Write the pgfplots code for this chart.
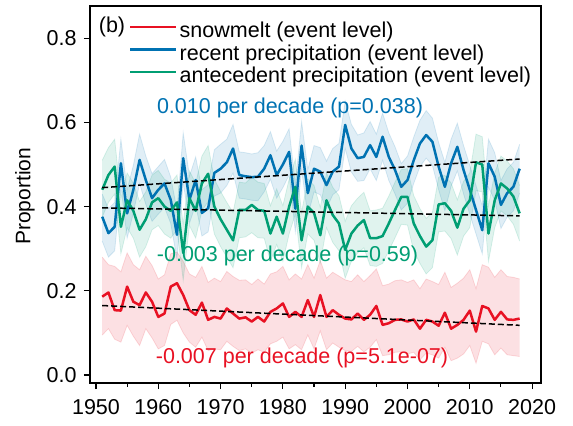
\documentclass[border=0pt]{standalone}
\usepackage{fontspec}
\setmainfont{Liberation Sans}
\usepackage{pgfplots}
\pgfplotsset{compat=1.18}
\usepackage{pgfplotstable}
\usepgfplotslibrary{fillbetween}
\definecolor{cred}{RGB}{232,17,35}
\definecolor{cblue}{RGB}{0,114,178}
\definecolor{cgreen}{RGB}{0,158,115}
\newcommand{\fs}{\fontsize{21.5bp}{24bp}\selectfont}
\pgfplotstableread{
year v hi lo
1951 0.186 0.280 0.095
1952 0.196 0.262 0.110
1953 0.154 0.258 0.085
1954 0.153 0.245 0.078
1955 0.210 0.290 0.118
1956 0.174 0.262 0.092
1957 0.166 0.250 0.070
1958 0.196 0.282 0.110
1959 0.174 0.260 0.088
1960 0.138 0.228 0.062
1961 0.146 0.238 0.070
1962 0.210 0.288 0.120
1963 0.218 0.292 0.130
1964 0.190 0.270 0.100
1965 0.154 0.240 0.078
1966 0.143 0.232 0.066
1967 0.172 0.258 0.090
1968 0.131 0.220 0.058
1969 0.138 0.230 0.062
1970 0.134 0.222 0.060
1971 0.158 0.246 0.080
1972 0.146 0.234 0.068
1973 0.134 0.225 0.058
1974 0.137 0.226 0.062
1975 0.127 0.215 0.052
1976 0.138 0.228 0.060
1977 0.127 0.216 0.054
1978 0.150 0.240 0.074
1979 0.158 0.245 0.080
1980 0.170 0.258 0.090
1981 0.138 0.226 0.062
1982 0.150 0.240 0.072
1983 0.138 0.228 0.060
1984 0.178 0.262 0.095
1985 0.138 0.230 0.062
1986 0.190 0.272 0.105
1987 0.138 0.230 0.060
1988 0.154 0.244 0.076
1989 0.143 0.235 0.066
1990 0.134 0.226 0.058
1991 0.132 0.222 0.056
1992 0.146 0.238 0.068
1993 0.131 0.222 0.055
1994 0.143 0.236 0.066
1995 0.164 0.252 0.084
1996 0.119 0.212 0.046
1997 0.123 0.216 0.048
1998 0.131 0.224 0.054
1999 0.132 0.226 0.055
2000 0.127 0.220 0.050
2001 0.132 0.226 0.054
2002 0.110 0.205 0.036
2003 0.131 0.228 0.052
2004 0.127 0.222 0.048
2005 0.117 0.215 0.040
2006 0.148 0.244 0.066
2007 0.110 0.208 0.034
2008 0.119 0.218 0.040
2009 0.131 0.230 0.050
2010 0.153 0.250 0.070
2011 0.103 0.205 0.028
2012 0.164 0.262 0.080
2013 0.158 0.256 0.074
2014 0.131 0.232 0.048
2015 0.150 0.250 0.064
2016 0.132 0.234 0.048
2017 0.131 0.232 0.046
2018 0.134 0.228 0.044
}\snow
\pgfplotstableread{
year v hi lo
1951 0.376 0.430 0.318
1952 0.337 0.395 0.280
1953 0.352 0.410 0.295
1954 0.503 0.560 0.448
1955 0.384 0.440 0.325
1956 0.440 0.498 0.385
1957 0.511 0.572 0.455
1958 0.463 0.520 0.405
1959 0.420 0.478 0.365
1960 0.440 0.495 0.382
1961 0.455 0.512 0.398
1962 0.416 0.470 0.360
1963 0.333 0.392 0.275
1964 0.515 0.575 0.458
1965 0.416 0.472 0.360
1966 0.463 0.518 0.405
1967 0.385 0.440 0.330
1968 0.396 0.452 0.340
1969 0.480 0.535 0.425
1970 0.490 0.548 0.432
1971 0.505 0.560 0.450
1972 0.538 0.595 0.480
1973 0.475 0.530 0.420
1974 0.472 0.528 0.418
1975 0.470 0.525 0.415
1976 0.471 0.528 0.414
1977 0.490 0.545 0.435
1978 0.522 0.578 0.465
1979 0.475 0.532 0.420
1980 0.500 0.555 0.445
1981 0.530 0.585 0.475
1982 0.395 0.452 0.340
1983 0.545 0.602 0.488
1984 0.432 0.488 0.378
1985 0.490 0.545 0.435
1986 0.483 0.540 0.428
1987 0.451 0.508 0.395
1988 0.483 0.538 0.428
1989 0.495 0.550 0.440
1990 0.594 0.650 0.538
1991 0.538 0.595 0.482
1992 0.515 0.570 0.460
1993 0.518 0.575 0.462
1994 0.546 0.602 0.490
1995 0.518 0.572 0.462
1996 0.566 0.622 0.510
1997 0.518 0.575 0.462
1998 0.487 0.542 0.430
1999 0.447 0.502 0.392
2000 0.463 0.520 0.408
2001 0.510 0.565 0.455
2002 0.550 0.605 0.495
2003 0.570 0.628 0.515
2004 0.554 0.610 0.498
2005 0.495 0.552 0.440
2006 0.447 0.505 0.390
2007 0.503 0.560 0.448
2008 0.542 0.598 0.485
2009 0.487 0.545 0.430
2010 0.440 0.498 0.382
2011 0.392 0.450 0.335
2012 0.344 0.402 0.288
2013 0.503 0.560 0.446
2014 0.471 0.528 0.415
2015 0.404 0.462 0.348
2016 0.432 0.490 0.375
2017 0.447 0.505 0.390
2018 0.490 0.548 0.432
}\recent
\pgfplotstableread{
year v hi lo
1951 0.440 0.510 0.375
1952 0.475 0.540 0.410
1953 0.495 0.560 0.430
1954 0.352 0.420 0.288
1955 0.415 0.480 0.350
1956 0.390 0.455 0.325
1957 0.345 0.412 0.280
1958 0.370 0.435 0.305
1959 0.410 0.475 0.345
1960 0.420 0.486 0.355
1961 0.400 0.465 0.335
1962 0.390 0.456 0.325
1963 0.410 0.475 0.345
1964 0.290 0.358 0.225
1965 0.420 0.485 0.355
1966 0.390 0.455 0.325
1967 0.455 0.520 0.390
1968 0.478 0.545 0.412
1969 0.400 0.465 0.335
1970 0.370 0.436 0.305
1971 0.345 0.410 0.280
1972 0.320 0.386 0.255
1973 0.392 0.458 0.326
1974 0.392 0.456 0.328
1975 0.404 0.470 0.338
1976 0.392 0.458 0.326
1977 0.390 0.455 0.325
1978 0.336 0.402 0.270
1979 0.376 0.442 0.310
1980 0.336 0.402 0.270
1981 0.400 0.465 0.335
1982 0.447 0.512 0.382
1983 0.320 0.386 0.255
1984 0.400 0.466 0.335
1985 0.385 0.450 0.320
1986 0.332 0.398 0.266
1987 0.415 0.480 0.350
1988 0.380 0.446 0.315
1989 0.360 0.426 0.295
1990 0.297 0.365 0.230
1991 0.336 0.402 0.270
1992 0.355 0.420 0.290
1993 0.368 0.434 0.302
1994 0.325 0.390 0.260
1995 0.325 0.392 0.258
1996 0.330 0.396 0.265
1997 0.360 0.425 0.295
1998 0.392 0.458 0.326
1999 0.423 0.488 0.358
2000 0.423 0.490 0.356
2001 0.360 0.426 0.295
2002 0.330 0.395 0.265
2003 0.305 0.372 0.240
2004 0.320 0.386 0.255
2005 0.405 0.470 0.340
2006 0.408 0.474 0.342
2007 0.390 0.456 0.324
2008 0.350 0.416 0.285
2009 0.395 0.460 0.330
2010 0.415 0.480 0.350
2011 0.505 0.572 0.438
2012 0.500 0.566 0.435
2013 0.336 0.402 0.270
2014 0.415 0.480 0.350
2015 0.455 0.520 0.390
2016 0.443 0.508 0.378
2017 0.424 0.490 0.358
2018 0.384 0.450 0.318
}\antec
\begin{document}
\begin{tikzpicture}
\begin{axis}[name=ax, scale only axis, width=451bp, height=377bp,
  xmin=1949.04, xmax=2021.43, ymin=-0.019, ymax=0.8765,
  xtick={1950,1960,1970,1980,1990,2000,2010,2020},
  minor xtick={1955,1965,1975,1985,1995,2005,2015},
  ytick={0,0.2,0.4,0.6,0.8},
  yticklabel style={xshift=-4bp, /pgf/number format/.cd, fixed, fixed zerofill, precision=1},
  /pgf/number format/set thousands separator={},
  /pgf/number format/assume math mode=true,
  tick align=outside, tick pos=left,
  major tick length=6bp, minor tick length=3.5bp,
  every tick/.style={black, line width=1.1bp},
  axis line style={line width=1.3bp},
  tick label style={font=\fs},
  xticklabel style={yshift=-7bp},
  ylabel={Proportion}, ylabel style={font=\fontsize{21bp}{24bp}\selectfont, at={(axis description cs:-0.144,0.495)}, anchor=center},
  legend style={at={(axis description cs:0.0865,0.958)}, anchor=north west, draw=none, fill=none, inner sep=0pt, font=\fs, row sep=2.5bp,
    nodes={inner xsep=2bp, inner ysep=0pt, text height=15.5bp, text depth=4.5bp}},
  legend cell align=left,
  legend image code/.code={\draw[#1, line width=2.5bp] (0bp,5bp) -- (46bp,5bp);},
]
% bands
\addplot[name path=su, draw=cred, draw opacity=0.14, line width=0.8bp, forget plot] table[x=year,y=hi]{\snow};
\addplot[name path=sl, draw=cred, draw opacity=0.14, line width=0.8bp, forget plot] table[x=year,y=lo]{\snow};
\addplot[fill=cred, fill opacity=0.13, draw=none, forget plot] fill between[of=su and sl];
\addplot[name path=ru, draw=cblue, draw opacity=0.14, line width=0.8bp, forget plot] table[x=year,y=hi]{\recent};
\addplot[name path=rl, draw=cblue, draw opacity=0.14, line width=0.8bp, forget plot] table[x=year,y=lo]{\recent};
\addplot[fill=cblue, fill opacity=0.12, draw=none, forget plot] fill between[of=ru and rl];
\addplot[name path=au, draw=cgreen, draw opacity=0.14, line width=0.8bp, forget plot] table[x=year,y=hi]{\antec};
\addplot[name path=al, draw=cgreen, draw opacity=0.14, line width=0.8bp, forget plot] table[x=year,y=lo]{\antec};
\addplot[fill=cgreen, fill opacity=0.12, draw=none, forget plot] fill between[of=au and al];
% lines
\addplot[cred, line width=2.5bp, line join=round] table[x=year,y=v]{\snow};
\addlegendentry{snowmelt (event level)}
\addplot[cblue, line width=2.5bp, line join=round] table[x=year,y=v]{\recent};
\addlegendentry{recent precipitation (event level)}
\addplot[cgreen, line width=2.5bp, line join=round] table[x=year,y=v]{\antec};
\addlegendentry{antecedent precipitation (event level)}
% trends
\addplot[black, line width=1.5bp, dash pattern=on 6bp off 3bp, forget plot] coordinates {(1951,0.445) (2018,0.513)};
\addplot[black, line width=1.5bp, dash pattern=on 6bp off 3bp, forget plot] coordinates {(1951,0.397) (2018,0.378)};
\addplot[black, line width=1.5bp, dash pattern=on 6bp off 3bp, forget plot] coordinates {(1951,0.165) (2018,0.118)};
% annotations
\node[font=\fs, text=cblue, anchor=center] at (axis cs:1981.14,0.634) {0.010 per decade (p=0.038)};
\node[font=\fs, text=cgreen, anchor=center] at (axis cs:1980.74,0.283) {-0.003 per decade (p=0.59)};
\node[font=\fs, text=cred, anchor=center] at (axis cs:1983.07,0.041) {-0.007 per decade (p=5.1e-07)};
\node[font=\fs, anchor=center] at (axis description cs:0.0488,0.945) {(b)};
\end{axis}
\path[use as bounding box] ([xshift=-90bp,yshift=-43bp]ax.south west) rectangle ([xshift=32bp,yshift=6bp]ax.north east);
\end{tikzpicture}
\end{document}
